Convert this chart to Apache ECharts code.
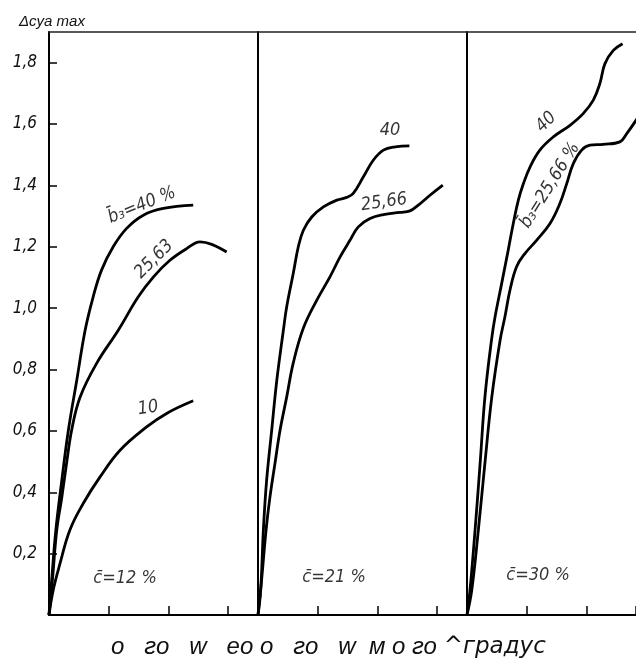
<!DOCTYPE html>
<html><head><meta charset="utf-8">
<script src="https://cdn.jsdelivr.net/npm/echarts@6/dist/echarts.min.js"></script>
<style>html,body{margin:0;padding:0;background:#fff}#c{width:636px;height:666px}</style>
</head><body><div id="c"></div>
<script>
// ---- data (x: angle in degrees, y: Δc_ya max) ----
const yTicks = [0.2,0.4,0.6,0.8,1.0,1.2,1.4,1.6,1.8];
const bottomTextA = 'о   го   w   ео о   го   w  м о го ';
const bottomTextB = '^градус';
const yName = 'Δcya max';
const panelMaxX = [70, 70, 56.6];   // third panel is cut by the picture edge

// panel 1: c = 12 %
const p1_b40 = [[0,0],[0.9,0.114],[2.3,0.277],[4.3,0.44],[6.5,0.603],[9.3,0.765],[12.1,0.928],[14.8,1.037],[17.6,1.124],[21.5,1.2],[26.0,1.26],[31.6,1.303],[38.3,1.325],[48.3,1.336]];
const p1_b2563 = [[0,0],[1.2,0.12],[2.6,0.277],[4.3,0.384],[5.9,0.495],[7.6,0.603],[10.4,0.71],[16.0,0.821],[23.2,0.928],[29.9,1.037],[35.0,1.102],[40.5,1.156],[46.1,1.194],[50.6,1.216],[54.5,1.208],[59.5,1.183]];
const p1_b10 = [[0,0],[1.4,0.081],[3.7,0.168],[7.0,0.277],[11.5,0.364],[17.1,0.45],[23.8,0.537],[32.7,0.613],[39.4,0.657],[48.3,0.698]];
// panel 2: c = 21 %
const p2_b40 = [[0,0],[0.9,0.081],[1.8,0.277],[2.9,0.44],[4.6,0.603],[6.3,0.765],[8.5,0.928],[9.6,1.004],[11.8,1.113],[13.5,1.2],[15.2,1.254],[18.0,1.297],[21.9,1.33],[26.4,1.352],[29.7,1.361],[31.9,1.374],[35.3,1.428],[38.6,1.482],[42.0,1.515],[46.0,1.526],[50.7,1.529]];
const p2_b2566 = [[0,0],[1.2,0.114],[2.7,0.277],[4.0,0.384],[5.7,0.495],[7.4,0.603],[9.6,0.71],[11.8,0.821],[15.2,0.935],[19.7,1.026],[24.1,1.102],[27.5,1.167],[30.8,1.221],[33.6,1.265],[37.5,1.292],[42.0,1.305],[47.6,1.312],[50.9,1.317],[53.7,1.336],[57.6,1.368],[61.9,1.401]];
// panel 3: c = 30 %
const p3_b40 = [[0,0],[1.0,0.081],[2.7,0.277],[4.4,0.495],[6.0,0.71],[8.2,0.896],[9.4,0.972],[11.6,1.08],[13.8,1.189],[15.5,1.276],[17.2,1.352],[18.9,1.406],[21.1,1.46],[24.4,1.515],[28.9,1.558],[34.5,1.596],[38.9,1.634],[42.3,1.678],[44.5,1.732],[46.2,1.797],[49.0,1.84],[52.1,1.862]];
const p3_b2566 = [[0,0],[1.6,0.081],[3.8,0.277],[6.0,0.495],[8.3,0.71],[11.1,0.896],[12.7,0.972],[14.4,1.059],[16.6,1.135],[19.4,1.178],[23.3,1.221],[27.8,1.276],[31.1,1.341],[33.4,1.406],[35.6,1.471],[38.4,1.515],[41.2,1.531],[45.6,1.534],[51.2,1.542],[53.5,1.569],[56.6,1.612],[59.6,1.66]];

// annotation texts
const txtB40 = 'b\u0304\u2083=40 %';
const txt2563 = '25,63';
const txt10 = '10';
const txtC12 = 'c\u0304=12 %';
const txt40 = '40';
const txt2566 = '25,66';
const txtC21 = 'c\u0304=21 %';
const txtB2566 = 'b\u0304\u2083=25,66 %';
const txtC30 = 'c\u0304=30 %';

// ---- chart ----
const chart = echarts.init(document.getElementById('c'), null, {renderer:'canvas'});
const lblFont = "'Liberation Sans Narrow','DejaVu Sans Condensed','Liberation Sans',sans-serif";
const grids = [0,1,2].map(i => ({left:49 + i*209, top:32, width: i<2 ? 209 : 169, height:583}));
const xAxes = [];
[0,1,2].forEach(i => xAxes.push({gridIndex:i, type:'value', min:0, max:panelMaxX[i], interval:20,
  axisLine:{show:true, onZero:false, lineStyle:{color:'#000', width:2}},
  axisTick:{show:true, inside:true, length:9, lineStyle:{color:'#000', width:1.5}},
  axisLabel:{show:false}, splitLine:{show:false}}));
[0,1,2].forEach(i => xAxes.push({gridIndex:i, type:'value', position:'top', min:0, max:panelMaxX[i],
  axisLine:{show:true, onZero:false, lineStyle:{color:'#222', width:1.5}},
  axisTick:{show:false}, axisLabel:{show:false}, splitLine:{show:false}}));
const yAxes = [0,1,2].map(i => ({gridIndex:i, type:'value', min:0, max:1.9, interval:0.2,
  name: i===0 ? yName : '', nameLocation:'end', nameGap:3,
  nameTextStyle:{fontFamily:"'Liberation Sans',sans-serif", fontStyle:'italic', fontSize:15, color:'#111', align:'center', padding:[0,0,0,6]},
  axisLine:{show:true, onZero:false, lineStyle:{color:'#000', width:2}},
  axisTick:{show:i===0, inside:true, length:8, lineStyle:{color:'#000', width:1.5}},
  axisLabel:{show:i===0, margin:12, showMaxLabel:false, showMinLabel:false,
    fontFamily:lblFont, fontStyle:'italic', fontSize:17, color:'#111',
    formatter: v => yTicks.some(t => Math.abs(t-v)<1e-6) ? v.toFixed(1).replace('.', ',') : ''},
  splitLine:{show:false}}));

function curve(data, i){
  return {type:'line', xAxisIndex:i, yAxisIndex:i, data:data, smooth:0.4,
    showSymbol:false, symbol:'none', lineStyle:{color:'#000', width:2.8}, z:3, silent:true};
}
function notes(i, items){
  return {type:'scatter', xAxisIndex:i, yAxisIndex:i, symbolSize:1, itemStyle:{color:'rgba(0,0,0,0)'},
    silent:true, z:5,
    label:{show:true, position:'inside', formatter:'{b}', fontFamily:lblFont, fontStyle:'italic', fontSize:18, color:'#000'},
    data: items.map(it => ({name:it[0], value:[it[1], it[2]], label:{rotate:it[3] || 0}}))};
}

const option = {
  backgroundColor:'#fff',
  animation:false,
  title:{text:'{a|' + bottomTextA + '}{b|' + bottomTextB + '}', left:106, top:630,
    textStyle:{rich:{
      a:{fontFamily:"'Liberation Sans',Arial,sans-serif", fontStyle:'italic', fontWeight:'normal', fontSize:24, color:'#111'},
      b:{fontFamily:"'DejaVu Sans',sans-serif", fontStyle:'italic', fontWeight:'normal', fontSize:23, color:'#111'}}}},
  grid:grids, xAxis:xAxes, yAxis:yAxes,
  series:[
    curve(p1_b40,0), curve(p1_b2563,0), curve(p1_b10,0),
    curve(p2_b40,1), curve(p2_b2566,1),
    curve(p3_b40,2), curve(p3_b2566,2),
    notes(0, [[txtB40, 31.1, 1.335, 22],[txt2563, 35.2, 1.159, 45],[txt10, 33.2, 0.674, 8],[txtC12, 25.5, 0.12, 0]]),
    notes(1, [[txt40, 44.2, 1.58, 0],[txt2566, 42.2, 1.345, 8],[txtC21, 25.5, 0.124, 0]]),
    notes(2, [[txt40, 26.5, 1.606, 45],[txtB2566, 27.8, 1.40, 58],[txtC30, 23.8, 0.13, 0]])
  ]
};
chart.setOption(option);
</script></body></html>
